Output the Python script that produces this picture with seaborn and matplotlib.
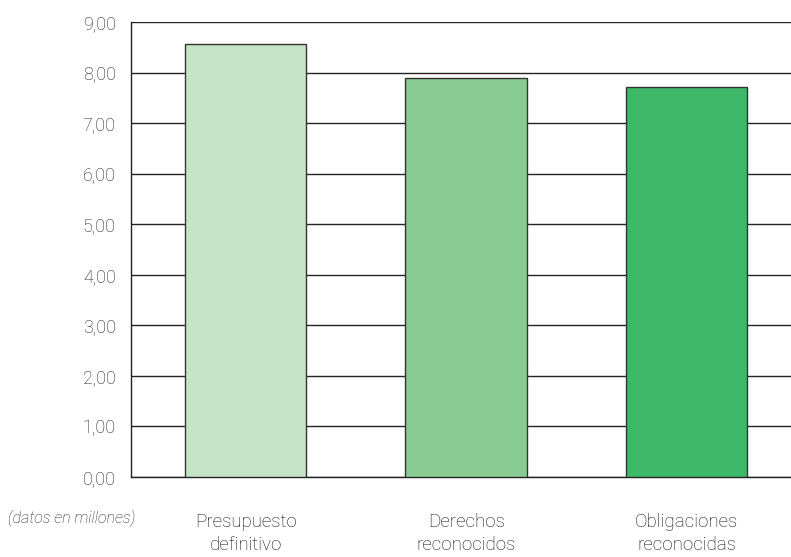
import matplotlib
matplotlib.use("Agg")
import matplotlib.pyplot as plt
from matplotlib import font_manager
import seaborn as sns
import pandas as pd

categorias = ["Presupuesto\ndefinitivo", "Derechos\nreconocidos", "Obligaciones\nreconocidas"]
importes = [8.57, 7.89, 7.72]
colores = ["#C4E3C7", "#88CC94", "#3DB869"]
ticks_y = [0, 1, 2, 3, 4, 5, 6, 7, 8, 9]

sns.set_theme(style="white")
names = {f.name for f in font_manager.fontManager.ttflist}
fam = "Roboto" if "Roboto" in names else "DejaVu Sans"
plt.rcParams["font.family"] = [fam, "DejaVu Sans"]
plt.rcParams["font.weight"] = "light"

df = pd.DataFrame({"categoria": categorias, "importe": importes})

fig = plt.figure(figsize=(7.91, 5.57), dpi=100)
ax = fig.add_axes([131 / 791, 1 - 477 / 557, 1 - 131 / 791, (477 - 22) / 557])

sns.barplot(data=df, x="categoria", y="importe", hue="categoria",
            palette=colores, saturation=1, width=0.55, edgecolor="#333333",
            linewidth=1.0, legend=False, ax=ax, zorder=3)

ax.set_ylim(0, 9)
ax.set_xlim(-0.52, 2.474)
ax.set_yticks(ticks_y)
ax.set_yticklabels([f"{v:.2f}".replace(".", ",") for v in ticks_y],
                   fontsize=13, color="#222222")
ax.yaxis.grid(True, color="#222222", linewidth=1.0, zorder=0)
ax.xaxis.grid(False)
ax.set_axisbelow(True)
for s in ["top", "right"]:
    ax.spines[s].set_visible(False)
for s in ["left", "bottom"]:
    ax.spines[s].set_color("#222222")
    ax.spines[s].set_linewidth(1.0)
ax.tick_params(axis="y", length=0, pad=11)
ax.tick_params(axis="x", length=0, pad=26)
ax.set_xticks(range(len(categorias)))
ax.set_xticklabels(categorias, fontsize=13.5, color="#111111", linespacing=1.35)
ax.set_xlabel("")
ax.set_ylabel("")

fig.text(8 / 791, 1 - 518 / 557, "(datos en millones)", fontsize=11.5,
         style="italic", color="#222222", va="center", ha="left")

fig.savefig("out.png", dpi=100)
